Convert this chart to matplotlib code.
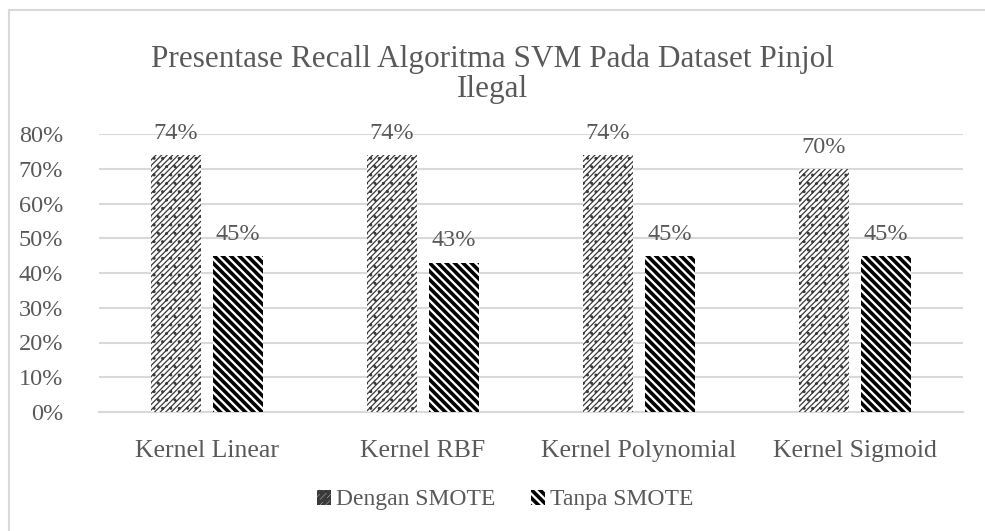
import matplotlib.pyplot as plt
from matplotlib.lines import Line2D
import numpy as np

# data
kategori = ["Kernel Linear", "Kernel RBF", "Kernel Polynomial", "Kernel Sigmoid"]
dengan_smote = [0.74, 0.74, 0.74, 0.70]
tanpa_smote = [0.45, 0.43, 0.45, 0.45]
seri = ["Dengan SMOTE", "Tanpa SMOTE"]
y_ticks = [0, 0.1, 0.2, 0.3, 0.4, 0.5, 0.6, 0.7, 0.8]

plt.rcParams['font.family'] = ['Liberation Serif', 'DejaVu Serif']
abu = '#595959'
grid = '#d9d9d9'

fig = plt.figure(figsize=(9.85, 5.31), dpi=100)
ax = fig.add_axes([99 / 985, 119 / 531, 864 / 985, 278 / 531])

x = np.arange(len(kategori))
lebar = 0.23
geser = 0.143

plt.rcParams['hatch.linewidth'] = 0.9
b1 = ax.bar(x - geser, dengan_smote, lebar, color='white', edgecolor='#3a3a3a',
            hatch='//////..', linewidth=0, label=seri[0], zorder=3)
plt.rcParams['hatch.linewidth'] = 2.6
b2 = ax.bar(x + geser, tanpa_smote, lebar, color='white', edgecolor='black',
            hatch='\\\\\\\\', linewidth=0, label=seri[1], zorder=3)

for bars in (b1, b2):
    for r in bars:
        ax.annotate(f"{r.get_height() * 100:.0f}%",
                    (r.get_x() + r.get_width() / 2, r.get_height()),
                    xytext=(0, 8), textcoords='offset points',
                    ha='center', va='bottom', fontsize=17.5, color=abu)

ax.set_xlim(-0.5, len(kategori) - 0.5)
ax.set_ylim(0, 0.8)
ax.set_yticks(y_ticks)
ax.set_yticklabels([f"{v * 100:.0f}%" for v in y_ticks])
ax.set_xticks(x)
ax.set_xticklabels(kategori)
ax.tick_params(axis='both', length=0, labelsize=17.5, labelcolor=abu)
ax.tick_params(axis='x', labelsize=18.5, pad=20)
ax.tick_params(axis='y', pad=26)
ax.yaxis.grid(True, color=grid, linewidth=1.5, zorder=0)
for s in ax.spines.values():
    s.set_visible(False)
ax.spines['bottom'].set_visible(True)
ax.spines['bottom'].set_color(grid)
ax.spines['bottom'].set_linewidth(1.5)

fig.text(0.5, 1 - 74 / 531, "Presentase Recall Algoritma SVM Pada Dataset Pinjol\nIlegal",
         ha='center', va='center', fontsize=22.5, color=abu, linespacing=1.05)

ax.legend(loc='center', bbox_to_anchor=(505 / 985, 1 - 500 / 531),
          bbox_transform=fig.transFigure, ncol=2, frameon=False,
          fontsize=17, labelcolor=abu, handlelength=0.6, handleheight=0.6,
          handletextpad=0.2, columnspacing=1.5)

# bingkai chart
fig.add_artist(Line2D([9 / 985, 1], [1 - 10 / 531, 1 - 10 / 531], color=grid, lw=1.5))
fig.add_artist(Line2D([9 / 985, 9 / 985], [0, 1 - 10 / 531], color=grid, lw=1.5))

fig.savefig("out.png", dpi=100)
